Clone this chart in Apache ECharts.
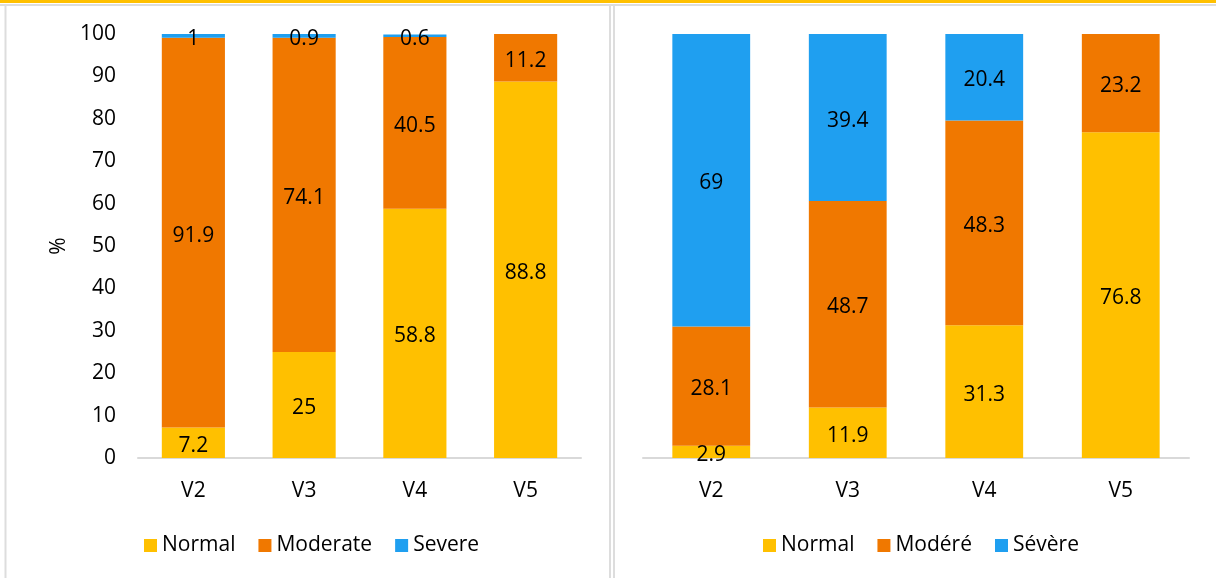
<!DOCTYPE html>
<html>
<head>
<meta charset="utf-8">
<script src="https://cdn.jsdelivr.net/npm/echarts@6/dist/echarts.min.js"></script>
<style>
  html, body { margin: 0; padding: 0; background: #fff; }
  #chart { width: 1216px; height: 578px; }
</style>
</head>
<body>
<div id="chart"></div>
<script>
// Visit categories shared by both panels
const categories = ['V2', 'V3', 'V4', 'V5'];

// Left panel (English labels), percentages
const leftNormal = [7.2, 25, 58.8, 88.8];
const leftModerate = [91.9, 74.1, 40.5, 11.2];
const leftSevere = [1, 0.9, 0.6, 0];

// Right panel (French labels), percentages
const rightNormal = [2.9, 11.9, 31.3, 76.8];
const rightModere = [28.1, 48.7, 48.3, 23.2];
const rightSevere = [69, 39.4, 20.4, 0];

const yTicks = { min: 0, max: 100, interval: 10 };

const COLORS = { normal: '#FFC000', moderate: '#F07800', severe: '#1F9FF0' };
const FONT = 'Open Sans';
const FS = 21;

function yAxis(gridIndex, showLabels) {
  return {
    type: 'value', gridIndex: gridIndex,
    min: yTicks.min, max: yTicks.max, interval: yTicks.interval,
    splitLine: { show: false },
    axisLine: { show: false },
    axisTick: { show: false },
    axisLabel: { show: showLabels, color: '#000', fontFamily: FONT, fontSize: FS, margin: 22, lineHeight: 26, verticalAlign: 'middle' },
    name: showLabels ? '%' : '',
    nameLocation: 'middle',
    nameRotate: 90,
    nameGap: 68,
    nameTextStyle: { color: '#000', fontFamily: FONT, fontSize: FS }
  };
}

function xAxis(gridIndex) {
  return {
    type: 'category', gridIndex: gridIndex, data: categories,
    axisLine: { lineStyle: { color: '#D9D9D9', width: 2 } },
    axisTick: { show: false },
    axisLabel: { color: '#000', fontFamily: FONT, fontSize: FS, margin: 23 }
  };
}

function barSeries(name, data, color, axisIndex) {
  return {
    name: name, type: 'bar', stack: 'panel' + axisIndex,
    xAxisIndex: axisIndex, yAxisIndex: axisIndex,
    data: data,
    barCategoryGap: '43%',
    itemStyle: { color: color },
    label: {
      show: true, position: 'inside', color: '#000',
      fontFamily: FONT, fontSize: FS, offset: [0, 3],
      formatter: p => (p.value === 0 ? '' : String(p.value))
    }
  };
}

const legendCommon = {
  orient: 'horizontal', itemWidth: 13, itemHeight: 13, itemGap: 23,
  icon: 'rect',
  textStyle: { color: '#000', fontFamily: FONT, fontSize: FS },
  top: 530
};

const chart = echarts.init(document.getElementById('chart'), null, { renderer: 'canvas' });
chart.setOption({
  backgroundColor: '#fff',
  animation: false,
  grid: [
    { left: 138, right: 635, top: 34, bottom: 120 },
    { left: 643, right: 27, top: 34, bottom: 120 }
  ],
  xAxis: [xAxis(0), xAxis(1)],
  yAxis: [yAxis(0, true), yAxis(1, false)],
  legend: [
    Object.assign({}, legendCommon, { left: 139, data: ['Normal', 'Moderate', 'Severe'] }),
    Object.assign({}, legendCommon, { left: 758, data: ['Normal', 'Modéré', 'Sévère'] })
  ],
  series: [
    barSeries('Normal', leftNormal, COLORS.normal, 0),
    barSeries('Moderate', leftModerate, COLORS.moderate, 0),
    barSeries('Severe', leftSevere, COLORS.severe, 0),
    barSeries('Normal', rightNormal, COLORS.normal, 1),
    barSeries('Modéré', rightModere, COLORS.moderate, 1),
    barSeries('Sévère', rightSevere, COLORS.severe, 1)
  ],
  graphic: [
    { type: 'rect', shape: { x: 0, y: 0, width: 1216, height: 3 }, style: { fill: '#FFC000' }, silent: true },
    { type: 'line', shape: { x1: 0, y1: 5, x2: 1216, y2: 5 }, style: { stroke: '#DDDDDD', lineWidth: 2 }, silent: true },
    { type: 'line', shape: { x1: 5.5, y1: 5, x2: 5.5, y2: 578 }, style: { stroke: '#DDDDDD', lineWidth: 2 }, silent: true },
    { type: 'line', shape: { x1: 610, y1: 5, x2: 610, y2: 578 }, style: { stroke: '#DDDDDD', lineWidth: 2 }, silent: true },
    { type: 'line', shape: { x1: 614, y1: 5, x2: 614, y2: 578 }, style: { stroke: '#DDDDDD', lineWidth: 2 }, silent: true }
  ]
});
</script>
</body>
</html>
